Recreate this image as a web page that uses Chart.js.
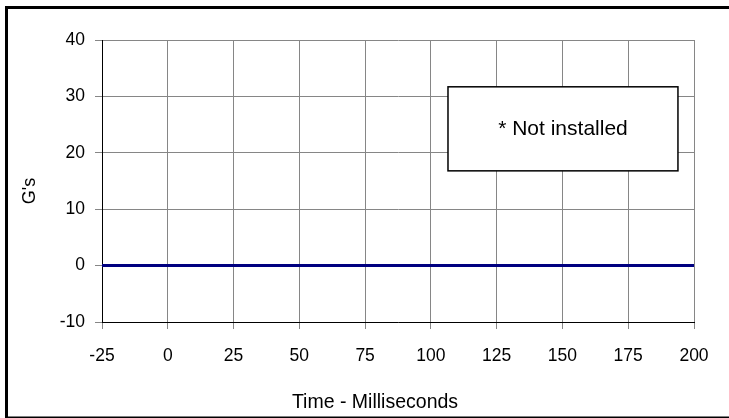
<!DOCTYPE html>
<html>
<head>
<meta charset="utf-8">
<script src="https://cdn.jsdelivr.net/npm/chart.js@4/dist/chart.umd.min.js"></script>
<style>
  html, body { margin: 0; padding: 0; background: #fff; }
  #wrap { width: 729px; height: 418px; position: relative; }
</style>
</head>
<body>
<div id="wrap"><canvas id="myChart" width="729" height="418"></canvas></div>
<script>
// data
const timeMs = [-25, 0, 25, 50, 75, 100, 125, 150, 175, 200];
const gValues = [0, 0, 0, 0, 0, 0, 0, 0, 0, 0];
const xTicks = [-25, 0, 25, 50, 75, 100, 125, 150, 175, 200];
const yTicks = [-10, 0, 10, 20, 30, 40];
const xTitle = 'Time - Milliseconds';
const yTitle = "G's";
const noteText = '* Not installed';

const font = '"Liberation Sans", Arial, sans-serif';

// frame round the whole picture, axis titles and the note box
const decor = {
    id: 'decor',
    afterDraw(chart) {
        const c = chart.ctx;
        c.save();
        c.strokeStyle = '#000';
        c.lineWidth = 3;
        c.beginPath();
        c.moveTo(6.5, 418);
        c.lineTo(6.5, 7.5);
        c.lineTo(729, 7.5);
        c.stroke();
        c.lineWidth = 1.5;
        c.beginPath();
        c.moveTo(6.5, 417.2);
        c.lineTo(729, 417.2);
        c.stroke();

        c.fillStyle = '#000';
        c.textAlign = 'center';
        c.textBaseline = 'alphabetic';
        c.font = '19.5px ' + font;
        c.fillText(xTitle, 375, 408);

        c.save();
        c.translate(35, 191);
        c.rotate(-Math.PI / 2);
        c.font = '18px ' + font;
        c.fillText(yTitle, 0, 0);
        c.restore();

        // note box
        const x = chart.scales.x, y = chart.scales.y;
        const l = x.getPixelForValue(106.5), r = x.getPixelForValue(193.9);
        const t = y.getPixelForValue(31.7), b = y.getPixelForValue(16.8);
        c.fillStyle = '#fff';
        c.fillRect(l, t, r - l, b - t);
        c.lineWidth = 1.5;
        c.strokeRect(l, t, r - l, b - t);
        c.fillStyle = '#000';
        c.font = '21px ' + font;
        c.fillText(noteText, (l + r) / 2, 135);
        c.restore();
    }
};

const ctx = document.getElementById('myChart');
const data = {
    datasets: [{
        data: timeMs.map((t, i) => ({ x: t, y: gValues[i] })),
        showLine: true,
        borderColor: '#000080',
        borderWidth: 3,
        pointRadius: 0,
        tension: 0
    }]
};

const config = {
    type: 'scatter',
    data: data,
    plugins: [decor],
    options: {
        responsive: false,
        animation: false,
        layout: { padding: { top: 40, right: 35, left: 0, bottom: 0 } },
        plugins: { legend: { display: false }, tooltip: { enabled: false } },
        scales: {
            x: {
                type: 'linear',
                min: -25, max: 200,
                afterBuildTicks: (s) => { s.ticks = xTicks.map(v => ({ value: v })); },
                afterFit: (s) => { s.height = 96; },
                grid: { color: '#868686', lineWidth: 1, tickLength: 7 },
                border: { color: '#000', width: 1 },
                ticks: { color: '#000', font: { family: font, size: 17.5 }, padding: 17, maxRotation: 0 }
            },
            y: {
                min: -10, max: 40,
                afterBuildTicks: (s) => { s.ticks = yTicks.map(v => ({ value: v })); },
                afterFit: (s) => { s.width = 102; },
                grid: { color: '#868686', lineWidth: 1, tickLength: 7 },
                border: { color: '#000', width: 1 },
                ticks: { color: '#000', font: { family: font, size: 17.5 }, padding: 10 }
            }
        }
    }
};

window.myChart = new Chart(ctx, config);
</script>
</body>
</html>
